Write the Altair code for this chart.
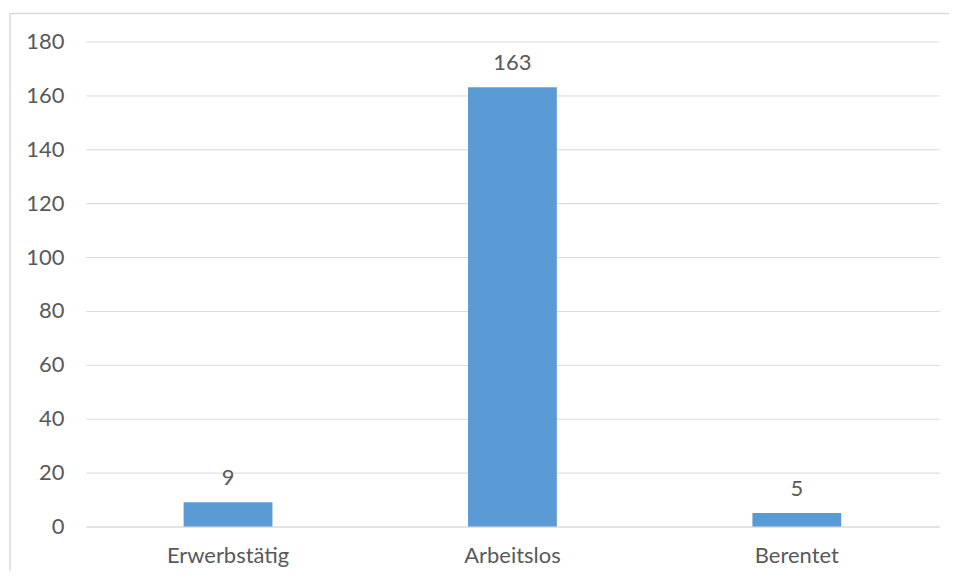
import altair as alt
import pandas as pd

categories = ["Erwerbstätig", "Arbeitslos", "Berentet"]
values = [9, 163, 5]
y_ticks = [0, 20, 40, 60, 80, 100, 120, 140, 160, 180]

df = pd.DataFrame({"Status": categories, "Anzahl": values})

W, H = 855, 486
FONT = "Lato"
FS = 22
TXT = "#595959"
GRID = "#D9D9D9"

base = alt.Chart(df).encode(
    x=alt.X(
        "Status:N",
        sort=categories,
        scale=alt.Scale(paddingInner=0, paddingOuter=0),
        axis=alt.Axis(
            title=None, labelAngle=0, ticks=False, domain=True,
            domainColor=GRID, domainWidth=1, labelPadding=19,
            labelFontSize=FS, labelColor=TXT, labelFont=FONT,
        ),
    ),
    y=alt.Y(
        "Anzahl:Q",
        scale=alt.Scale(domain=[0, 180], nice=False),
        axis=alt.Axis(
            values=y_ticks, title=None, ticks=False, domain=False,
            grid=True, gridColor=GRID, gridWidth=1, labelPadding=22,
            labelFontSize=FS, labelColor=TXT, labelFont=FONT,
        ),
    ),
)

bars = base.mark_bar(size=89, color="#5B9BD5")
labels = base.mark_text(
    dy=-24, baseline="middle", align="center", fontSize=FS, color=TXT, font=FONT
).encode(text="Anzahl:Q")

one = pd.DataFrame({"f": [0]})
frame_top = alt.Chart(one).mark_rule(color=GRID, strokeWidth=1.5).encode(
    x=alt.value(-76), x2=alt.value(W + 30), y=alt.value(-28)
)
frame_left = alt.Chart(one).mark_rule(color=GRID, strokeWidth=1.5).encode(
    x=alt.value(-76), y=alt.value(-28), y2=alt.value(H + 120)
)

chart = alt.layer(frame_top, frame_left, bars, labels).properties(
    width=W,
    height=H,
    padding={"left": 78, "top": 33, "right": 10, "bottom": 44},
    autosize=alt.AutoSizeParams(type="none"),
    background="white",
).configure_view(stroke=None)

chart.save("out.html", embed_options={"renderer": "svg", "actions": False})
